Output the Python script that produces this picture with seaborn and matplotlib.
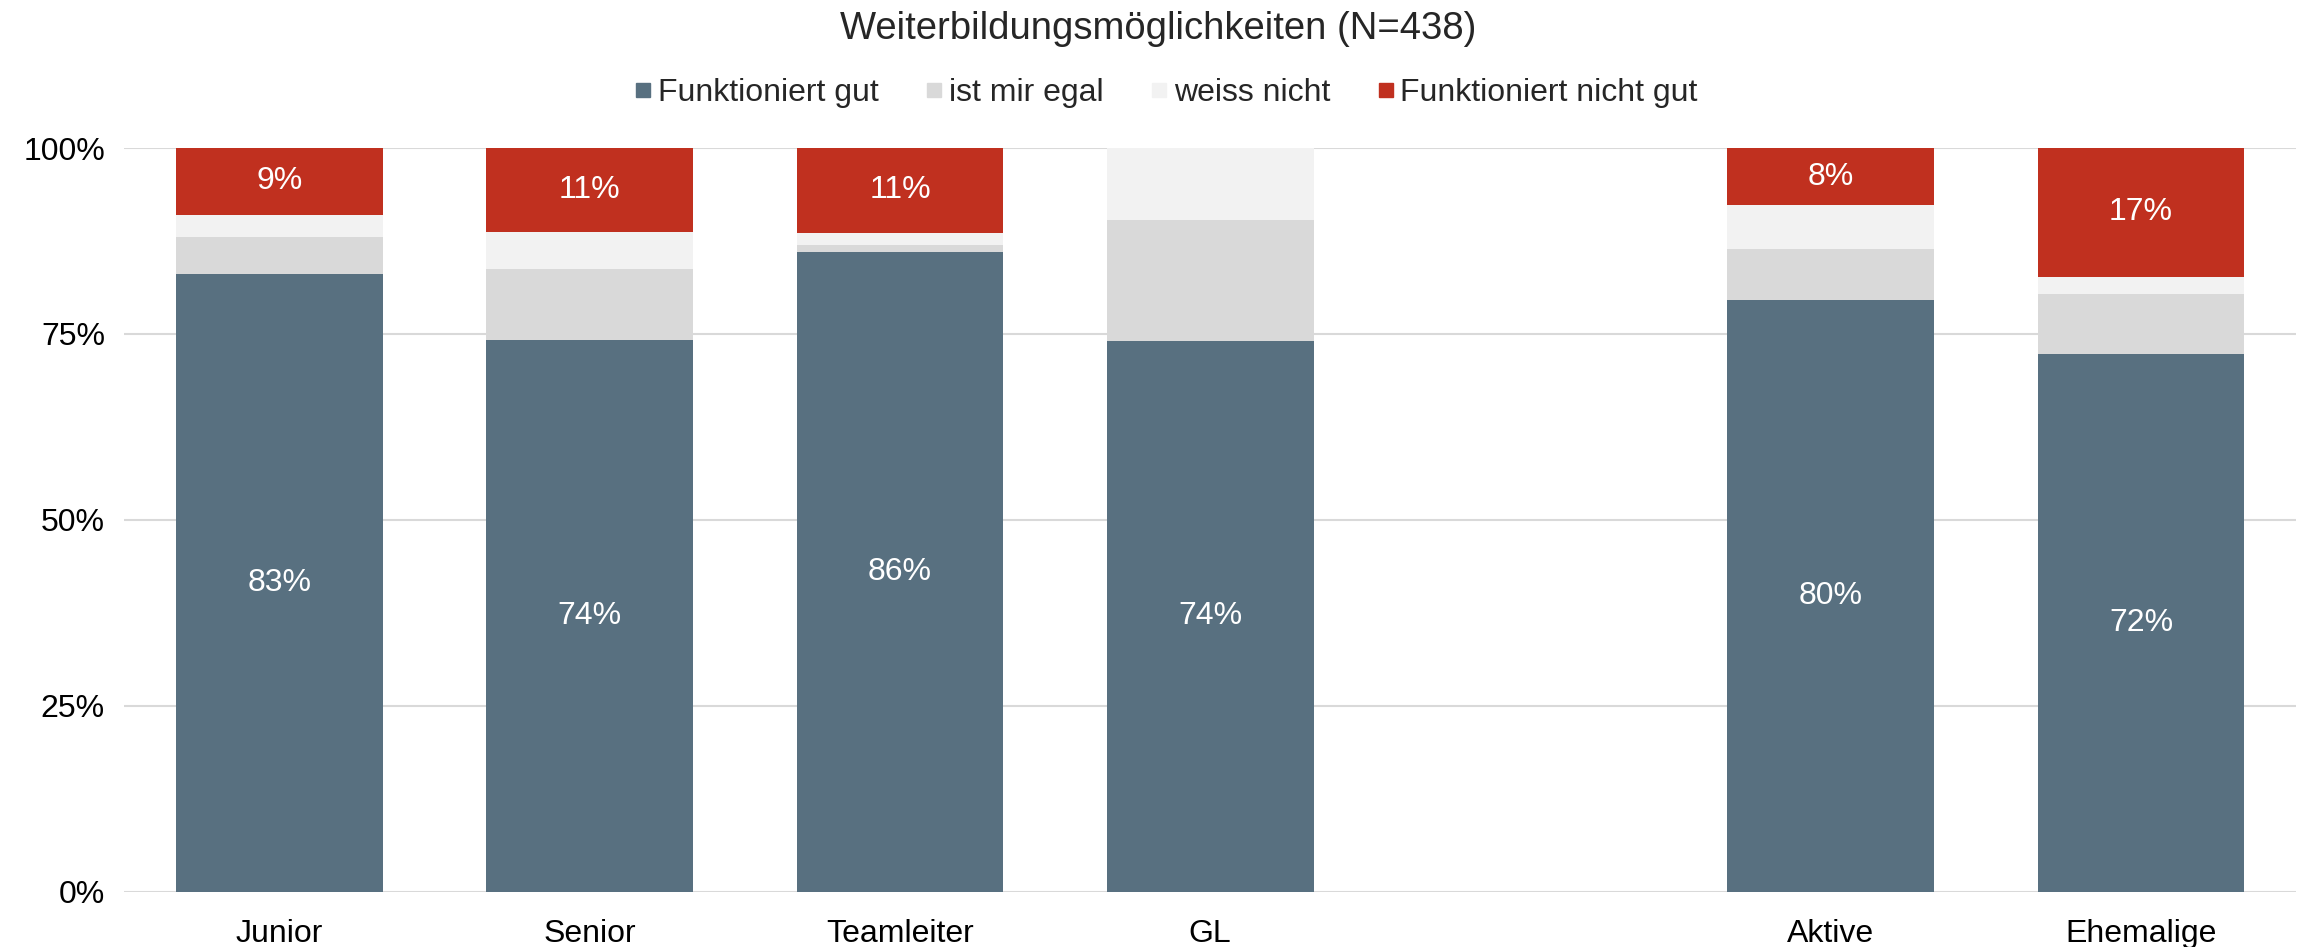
import numpy as np
import pandas as pd
import matplotlib
matplotlib.use("Agg")
import matplotlib.pyplot as plt
import seaborn as sns
from matplotlib.lines import Line2D

categories = ["Junior", "Senior", "Teamleiter", "GL", "", "Aktive", "Ehemalige"]
gut = [83.1, 74.2, 86.0, 74.1, np.nan, 79.5, 72.3]
egal = [4.9, 9.5, 0.9, 16.2, np.nan, 6.9, 8.1]
weiss = [3.0, 5.0, 1.7, 9.7, np.nan, 5.9, 2.3]
nicht_gut = [9.0, 11.3, 11.4, 0.0, np.nan, 7.7, 17.3]

series = ["Funktioniert gut", "ist mir egal", "weiss nicht", "Funktioniert nicht gut"]
colors = ["#587080", "#d9d9d9", "#f2f2f2", "#c0301f"]

sns.set_theme(style="white")
plt.rcParams["font.family"] = ["Liberation Sans", "DejaVu Sans"]

df = pd.DataFrame({"cat": categories, "gut": gut, "egal": egal,
                   "weiss": weiss, "nicht": nicht_gut})
df["c1"] = df["gut"]
df["c2"] = df["c1"] + df["egal"]
df["c3"] = df["c2"] + df["weiss"]
df["c4"] = df["c3"] + df["nicht"]

fig = plt.figure(figsize=(23.03, 9.47), dpi=100)
ax = fig.add_axes([0.054, 0.0586, 0.943, 0.7851])

for col, color in zip(["c4", "c3", "c2", "c1"], colors[::-1]):
    sns.barplot(data=df, x="cat", y=col, order=categories, color=color,
                width=0.667, ax=ax, saturation=1, linewidth=0, errorbar=None)

for i, row in df.iterrows():
    if np.isnan(row["gut"]):
        continue
    ax.text(i, row["gut"] / 2, f"{row['gut']:.0f}%", ha="center", va="center",
            color="white", fontsize=23)
    if row["nicht"] > 0:
        ax.text(i, row["c3"] + row["nicht"] / 2, f"{row['nicht']:.0f}%",
                ha="center", va="center", color="white", fontsize=23)

ax.set_ylim(0, 100)
ax.set_xlim(-0.5, 6.5)
ax.set_yticks([0, 25, 50, 75, 100])
ax.set_yticklabels(["0%", "25%", "50%", "75%", "100%"])
ax.yaxis.grid(True, color="#d9d9d9", linewidth=1.5)
ax.set_axisbelow(True)
for s in ax.spines.values():
    s.set_visible(False)
ax.tick_params(axis="both", length=0, labelsize=23, colors="#000000")
ax.tick_params(axis="x", pad=20)
ax.tick_params(axis="y", pad=14)
ax.set_xlabel("")
ax.set_ylabel("")

fig.text(0.503, 0.969, "Weiterbildungsmöglichkeiten (N=438)", ha="center",
         va="center", fontsize=27.5)

handles = [Line2D([0], [0], marker="s", linestyle="", markersize=10.5,
                  markerfacecolor=c, markeredgecolor=c) for c in colors]
fig.legend(handles, series, loc="center", bbox_to_anchor=(0.5055, 0.902),
           ncol=4, frameon=False, fontsize=23, handletextpad=0.05,
           columnspacing=1.35, handlelength=0.8)

fig.savefig("out.png", dpi=100)
